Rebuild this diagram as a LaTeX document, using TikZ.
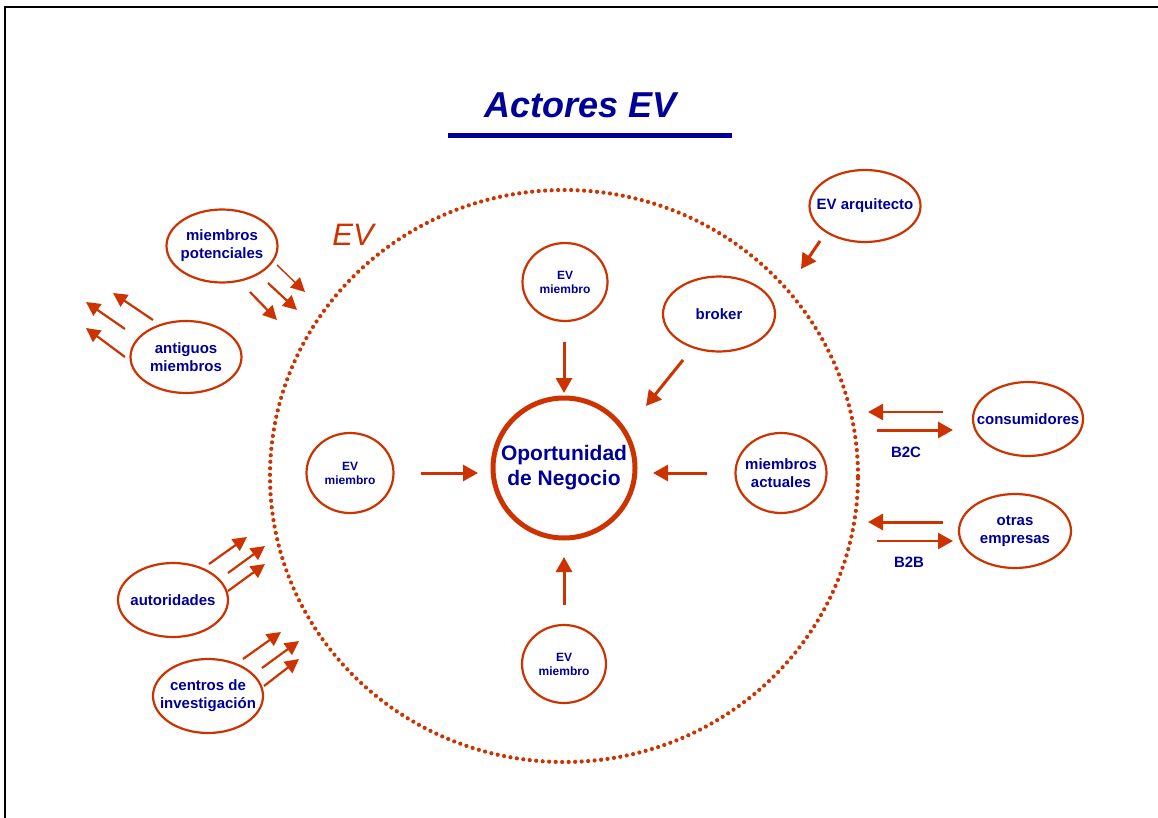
\documentclass[tikz,border=0pt]{standalone}
\usepackage{fontspec}
\setmainfont{Liberation Sans}
\usetikzlibrary{shapes.geometric,arrows.meta}
\definecolor{evred}{RGB}{204,51,0}
\definecolor{evblue}{RGB}{0,0,153}
\begin{document}
\begin{tikzpicture}[x=1pt,y=-1pt,
  oval/.style={ellipse, draw=evred, line width=2.2pt, inner sep=0pt},
  lbl/.style={text=evblue, font=\bfseries\fontsize{15}{18}\selectfont, align=center},
  small/.style={text=evblue, font=\bfseries\fontsize{12}{14}\selectfont, align=center},
  big/.style={text=evblue, font=\bfseries\fontsize{21}{25}\selectfont, align=center},
  flow/.style={draw=evred, line width=3pt, -{Triangle[length=15pt,width=16pt]}},
  side/.style={draw=evred, line width=2.2pt, -{Triangle[length=14pt,width=14pt]}},
]
\useasboundingbox (0,0) rectangle (1158,818);
% page frame
\draw[line width=2.5pt] (5,818) -- (5,7) -- (1158,7);

% title
\node[text=evblue, font=\bfseries\itshape\fontsize{36}{40}\selectfont, anchor=base] (title) at (581,118) {Actores EV};
\draw[evblue, line width=5pt] (448,136) -- (732,136);

% the enterprise boundary
\node[ellipse, draw=evred, line width=4.2pt, line cap=round, dash pattern=on 0pt off 6.5pt,
      minimum width=588, minimum height=572, inner sep=0pt] (ev) at (564,476) {};
\node[text=evred, font=\itshape\fontsize{31}{36}\selectfont, anchor=base] (evlabel) at (353,246) {EV};

% core
\node[oval, line width=5pt, minimum width=142, minimum height=140,
      label={[big]center:Oportunidad\\de Negocio}] (core) at (564,468) {};

% inner actors
\node[oval, minimum width=85, minimum height=78, label={[small]center:EV\\miembro}] (mtop) at (565,282) {};
\node[oval, minimum width=87, minimum height=80, label={[small]center:EV\\miembro}] (mleft) at (350,473) {};
\node[oval, minimum width=84, minimum height=78, label={[small]center:EV\\miembro}] (mbot) at (564,664) {};
\node[oval, minimum width=112, minimum height=75, label={[lbl]center:broker}] (broker) at (719,314) {};
\node[oval, minimum width=91, minimum height=80, label={[lbl]center:miembros\\actuales}] (actual) at (781,473) {};

% outer actors
\node[oval, minimum width=111, minimum height=72, label={[lbl]center:EV arquitecto}] (arq) at (865,206) {};
\node[oval, minimum width=110, minimum height=74, label={[lbl]center:consumidores}] (cons) at (1028,419) {};
\node[oval, minimum width=112, minimum height=74, label={[lbl]center:otras\\empresas}] (otras) at (1015,531) {};
\node[oval, minimum width=111, minimum height=73, label={[lbl]center:miembros\\potenciales}] (pot) at (222,246) {};
\node[oval, minimum width=111, minimum height=72, label={[lbl]center:antiguos\\miembros}] (ant) at (186,357) {};
\node[oval, minimum width=110, minimum height=74, label={[lbl]center:autoridades}] (aut) at (173,600) {};
\node[oval, minimum width=110, minimum height=74, label={[lbl]center:centros de\\investigación}] (cen) at (208,696) {};

\node[lbl] (b2c) at (906,452) {B2C};
\node[lbl] (b2b) at (909,562) {B2B};

% arrow end points
\coordinate (t1) at (564,342);  \coordinate (t2) at (564,393);
\coordinate (k1) at (683,360);  \coordinate (k2) at (646,406);
\coordinate (l1) at (421,473);  \coordinate (l2) at (478,473);
\coordinate (r1) at (707,473);  \coordinate (r2) at (653,473);
\coordinate (b1) at (564,605);  \coordinate (b2) at (564,557);
\coordinate (q1) at (820,241);  \coordinate (q2) at (801,269);
\coordinate (c1) at (943,412);  \coordinate (c2) at (868,412);
\coordinate (c3) at (877,430);  \coordinate (c4) at (953,430);
\coordinate (e1) at (943,522);  \coordinate (e2) at (868,522);
\coordinate (e3) at (877,541);  \coordinate (e4) at (953,541);

\coordinate (p1) at (277,265);  \coordinate (p2) at (305,292);
\coordinate (p3) at (268,283);  \coordinate (p4) at (297,310);
\coordinate (p5) at (250,292);  \coordinate (p6) at (277,320);
\coordinate (g1) at (153,320);  \coordinate (g2) at (113,293);
\coordinate (g3) at (125,329);  \coordinate (g4) at (86,302);
\coordinate (g5) at (125,357);  \coordinate (g6) at (86,328);
\coordinate (u1) at (209,564);  \coordinate (u2) at (247,537);
\coordinate (u3) at (228,573);  \coordinate (u4) at (265,546);
\coordinate (u5) at (228,591);  \coordinate (u6) at (265,564);
\coordinate (i1) at (243,659);  \coordinate (i2) at (281,632);
\coordinate (i3) at (262,668);  \coordinate (i4) at (299,641);
\coordinate (i5) at (264,686);  \coordinate (i6) at (299,659);

% arrows towards the opportunity
\draw[flow] (t1) -- (t2);
\draw[flow] (k1) -- (k2);
\draw[flow] (l1) -- (l2);
\draw[flow] (r1) -- (r2);
\draw[flow] (b1) -- (b2);
\draw[flow] (q1) -- (q2);

% B2C / B2B exchanges
\draw[flow, line width=2.4pt] (c1) -- (c2);
\draw[flow] (c3) -- (c4);
\draw[flow] (e1) -- (e2);
\draw[flow, line width=2.4pt] (e3) -- (e4);

% members entering and leaving
\draw[side, line width=1.4pt] (p1) -- (p2);
\draw[side] (p3) -- (p4);
\draw[side] (p5) -- (p6);
\draw[side] (g1) -- (g2);
\draw[side] (g3) -- (g4);
\draw[side] (g5) -- (g6);
\draw[side] (u1) -- (u2);
\draw[side] (u3) -- (u4);
\draw[side] (u5) -- (u6);
\draw[side] (i1) -- (i2);
\draw[side] (i3) -- (i4);
\draw[side] (i5) -- (i6);
\end{tikzpicture}
\end{document}
